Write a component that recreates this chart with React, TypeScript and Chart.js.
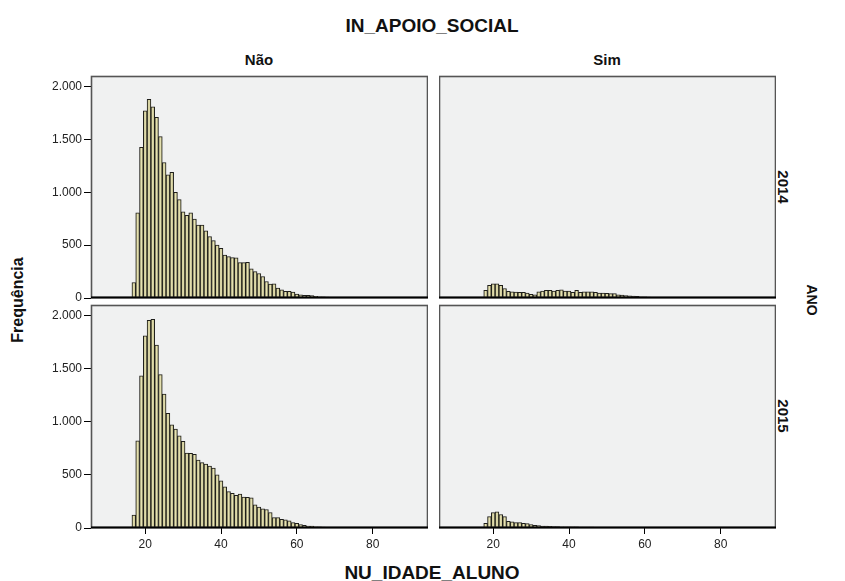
import React, { useEffect, useRef } from "react";
import { Chart, registerables } from "chart.js";

Chart.register(...registerables);

// ---------- DATA ----------
const AGES_NAO_2014 = [17, 18, 19, 20, 21, 22, 23, 24, 25, 26, 27, 28, 29, 30, 31, 32, 33, 34, 35, 36, 37, 38, 39, 40, 41, 42, 43, 44, 45, 46, 47, 48, 49, 50, 51, 52, 53, 54, 55, 56, 57, 58, 59, 60, 61, 62, 63, 64, 65, 66, 67, 68, 69, 70, 71, 72, 73, 74, 75, 76, 77, 78, 79, 80, 81];
const FREQ_NAO_2014 = [147, 805, 1426, 1771, 1880, 1809, 1708, 1527, 1282, 1166, 1188, 1000, 931, 815, 783, 805, 746, 689, 689, 636, 580, 542, 501, 470, 407, 391, 382, 380, 335, 335, 337, 275, 250, 232, 203, 156, 132, 135, 94, 78, 62, 62, 56, 38, 31, 25, 25, 22, 16, 12, 10, 8, 6, 5, 5, 4, 3, 3, 2, 4, 2, 1, 1, 1, 3];

const AGES_SIM_2014 = [18, 19, 20, 21, 22, 23, 24, 25, 26, 27, 28, 29, 30, 31, 32, 33, 34, 35, 36, 37, 38, 39, 40, 41, 42, 43, 44, 45, 46, 47, 48, 49, 50, 51, 52, 53, 54, 55, 56, 57, 58, 59, 60, 61, 62, 63, 64, 65, 66, 67];
const FREQ_SIM_2014 = [72, 119, 135, 135, 119, 90, 62, 59, 56, 53, 53, 47, 34, 31, 59, 65, 72, 72, 65, 72, 78, 65, 65, 53, 72, 53, 59, 59, 59, 53, 47, 47, 44, 41, 41, 31, 28, 24, 20, 18, 15, 12, 10, 8, 6, 5, 4, 3, 2, 1];

const AGES_NAO_2015 = [17, 18, 19, 20, 21, 22, 23, 24, 25, 26, 27, 28, 29, 30, 31, 32, 33, 34, 35, 36, 37, 38, 39, 40, 41, 42, 43, 44, 45, 46, 47, 48, 49, 50, 51, 52, 53, 54, 55, 56, 57, 58, 59, 60, 61, 62, 63, 64, 65, 66, 67, 68, 69, 70, 71, 72, 73, 74, 75, 76, 77, 78, 79, 80];
const FREQ_NAO_2015 = [121, 821, 1432, 1809, 1955, 1965, 1723, 1445, 1261, 1081, 972, 931, 868, 817, 706, 704, 694, 640, 615, 603, 583, 564, 501, 444, 387, 342, 326, 307, 320, 292, 289, 285, 219, 197, 180, 174, 146, 98, 98, 82, 76, 67, 50, 44, 32, 25, 19, 17, 12, 10, 8, 6, 5, 4, 4, 3, 3, 2, 2, 2, 1, 1, 1, 1];

const AGES_SIM_2015 = [18, 19, 20, 21, 22, 23, 24, 25, 26, 27, 28, 29, 30, 31, 32, 33, 34, 35, 36, 37, 38, 39, 40, 41, 42, 43, 44, 45, 46, 47, 48, 49, 50, 51, 52, 53, 54, 55, 56, 57, 58, 59, 60, 61];
const FREQ_SIM_2015 = [44, 107, 145, 152, 127, 107, 63, 57, 51, 51, 44, 41, 32, 25, 22, 19, 17, 16, 14, 13, 12, 12, 11, 10, 10, 9, 9, 8, 8, 7, 7, 6, 6, 5, 5, 4, 4, 3, 3, 2, 2, 2, 1, 1];

const X_TICKS = [20, 40, 60, 80];
const Y_TICKS = [0, 500, 1000, 1500, 2000];

const COL_LABELS = ["Não", "Sim"];
const ROW_LABELS = ["2014", "2015"];
const TITLE_TOP = "IN_APOIO_SOCIAL";
const TITLE_RIGHT = "ANO";
const TITLE_X = "NU_IDADE_ALUNO";
const TITLE_Y = "Frequência";

// ---------- STYLE / LAYOUT ----------
const X_MIN = 5.7;
const X_MAX = 94.6;
const Y_MAX = 2100;
const FONT = '"Liberation Sans", Arial, Helvetica, sans-serif';
const BAR_SOLID = "#c8c291";
const BAR_SIDE = "#aca774";
const BAR_MID = "#e8e4b4";
const BAR_EDGE = "#1e1e1a";
const PANEL_BG = "#f0f1f1";
const PANEL_EDGE = "#555555";
const Y_AXIS_W = 61;
const X_AXIS_H = 30;
const PAD = 10;

const COL_X = [91, 439];
const PANEL_W = 337;
const ROW_Y = [76, 305];
const PANEL_H = [222, 223];

const fmtThousands = (v: number) => String(v).replace(/\B(?=(\d{3})+(?!\d))/g, ".");

const barFill = (c: any) => {
  const chart = c.chart;
  const xs = chart.scales && chart.scales.x;
  if (!xs || !c.raw) return BAR_SOLID;
  const px = xs.getPixelForValue(c.raw.x);
  const half = (xs.getPixelForValue(c.raw.x + 1) - px) / 2;
  if (!Number.isFinite(px) || !Number.isFinite(half) || half <= 0) return BAR_SOLID;
  const g = chart.ctx.createLinearGradient(px - half, 0, px + half, 0);
  g.addColorStop(0, BAR_SIDE);
  g.addColorStop(0.5, BAR_MID);
  g.addColorStop(1, BAR_SIDE);
  return g;
};

const panelPlugin = {
  id: "panelFrame",
  beforeDatasetsDraw(chart: any) {
    const { ctx, chartArea: a } = chart;
    ctx.save();
    ctx.fillStyle = PANEL_BG;
    ctx.fillRect(a.left, a.top, a.right - a.left, a.bottom - a.top);
    ctx.restore();
  },
  afterDatasetsDraw(chart: any) {
    const { ctx, chartArea: a } = chart;
    ctx.save();
    ctx.strokeStyle = PANEL_EDGE;
    ctx.lineWidth = 1.6;
    ctx.strokeRect(a.left + 0.5, a.top + 0.5, a.right - a.left - 1, a.bottom - a.top - 1);
    ctx.strokeStyle = "#000";
    ctx.lineWidth = 2;
    ctx.beginPath();
    ctx.moveTo(a.left, a.bottom - 0.5);
    ctx.lineTo(a.right, a.bottom - 0.5);
    ctx.stroke();
    ctx.restore();
  },
};

type PanelProps = {
  ages: number[];
  values: number[];
  col: number;
  row: number;
};

function Panel({ ages, values, col, row }: PanelProps) {
  const ref = useRef<HTMLCanvasElement>(null);
  const showY = col === 0;
  const showX = row === 1;
  const yW = showY ? Y_AXIS_W : 0;
  const bottomExtra = showX ? X_AXIS_H : PAD;
  const cw = PANEL_W + yW;
  const ch = PANEL_H[row] + PAD + bottomExtra;
  const left = COL_X[col] - yW;
  const top = ROW_Y[row] - PAD;

  useEffect(() => {
    if (!ref.current) return;
    const tickFont = { family: FONT, size: 12 };
    const chart = new Chart(ref.current, {
      type: "bar",
      data: {
        datasets: [
          {
            data: ages.map((a, i) => ({ x: a, y: values[i] })),
            backgroundColor: barFill,
            borderColor: BAR_EDGE,
            borderWidth: 1,
            barPercentage: 1,
            categoryPercentage: 1,
          } as any,
        ],
      },
      options: {
        responsive: false,
        animation: false,
        devicePixelRatio: 1,
        layout: { padding: { top: PAD, bottom: showX ? 0 : PAD, left: 0, right: 0 } },
        plugins: {
          legend: { display: false },
          tooltip: { enabled: false },
          title: { display: false },
        },
        scales: {
          x: {
            type: "linear",
            min: X_MIN,
            max: X_MAX,
            offset: false,
            display: showX,
            grid: { display: true, offset: false, drawOnChartArea: false, drawTicks: true, tickLength: 6, color: "#000", lineWidth: 1 },
            border: { display: false },
            ticks: { font: tickFont, color: "#222", padding: 3, maxRotation: 0, autoSkip: false },
            afterBuildTicks: (s: any) => {
              s.ticks = X_TICKS.map((v) => ({ value: v }));
            },
            afterFit: (s: any) => {
              s.height = showX ? X_AXIS_H : 0;
            },
          },
          y: {
            type: "linear",
            min: 0,
            max: Y_MAX,
            display: showY,
            grid: { display: true, drawOnChartArea: false, drawTicks: true, tickLength: 7, color: "#000", lineWidth: 1 },
            border: { display: false },
            ticks: {
              font: tickFont,
              color: "#222",
              padding: 2,
              callback: (v: any) => fmtThousands(Number(v)),
            },
            afterBuildTicks: (s: any) => {
              s.ticks = Y_TICKS.map((v) => ({ value: v }));
            },
            afterFit: (s: any) => {
              s.width = showY ? Y_AXIS_W : 0;
            },
          },
        },
      } as any,
      plugins: [panelPlugin],
    });
    return () => chart.destroy();
  }, []);

  return (
    <div style={{ position: "absolute", left, top, width: cw, height: ch }}>
      <canvas ref={ref} width={cw} height={ch} style={{ width: cw, height: ch, display: "block" }} />
    </div>
  );
}

function Label({ text, x, y, size, rotate = 0, bold = true }: { text: string; x: number; y: number; size: number; rotate?: number; bold?: boolean }) {
  return (
    <div
      style={{
        position: "absolute",
        left: x,
        top: y,
        transform: `translate(-50%, -50%) rotate(${rotate}deg)`,
        fontFamily: FONT,
        fontWeight: bold ? 700 : 400,
        fontSize: size,
        lineHeight: 1,
        whiteSpace: "nowrap",
        color: "#111",
      }}
    >
      {text}
    </div>
  );
}

export default function App() {
  return (
    <div style={{ position: "absolute", left: 0, top: 0, width: 845, height: 581, background: "#fff", overflow: "hidden" }}>
      <Label text={TITLE_TOP} x={432} y={25} size={19} />
      <Label text={COL_LABELS[0]} x={259} y={59} size={15} />
      <Label text={COL_LABELS[1]} x={607} y={59} size={15} />
      <Label text={TITLE_Y} x={18} y={300} size={16} rotate={-90} />
      <Label text={TITLE_RIGHT} x={812} y={300} size={14} rotate={90} />
      <Label text={ROW_LABELS[0]} x={783} y={187} size={15} rotate={90} />
      <Label text={ROW_LABELS[1]} x={783} y={416} size={15} rotate={90} />
      <Label text={TITLE_X} x={432} y={572} size={19} />
      <Panel ages={AGES_NAO_2014} values={FREQ_NAO_2014} col={0} row={0} />
      <Panel ages={AGES_SIM_2014} values={FREQ_SIM_2014} col={1} row={0} />
      <Panel ages={AGES_NAO_2015} values={FREQ_NAO_2015} col={0} row={1} />
      <Panel ages={AGES_SIM_2015} values={FREQ_SIM_2015} col={1} row={1} />
    </div>
  );
}
